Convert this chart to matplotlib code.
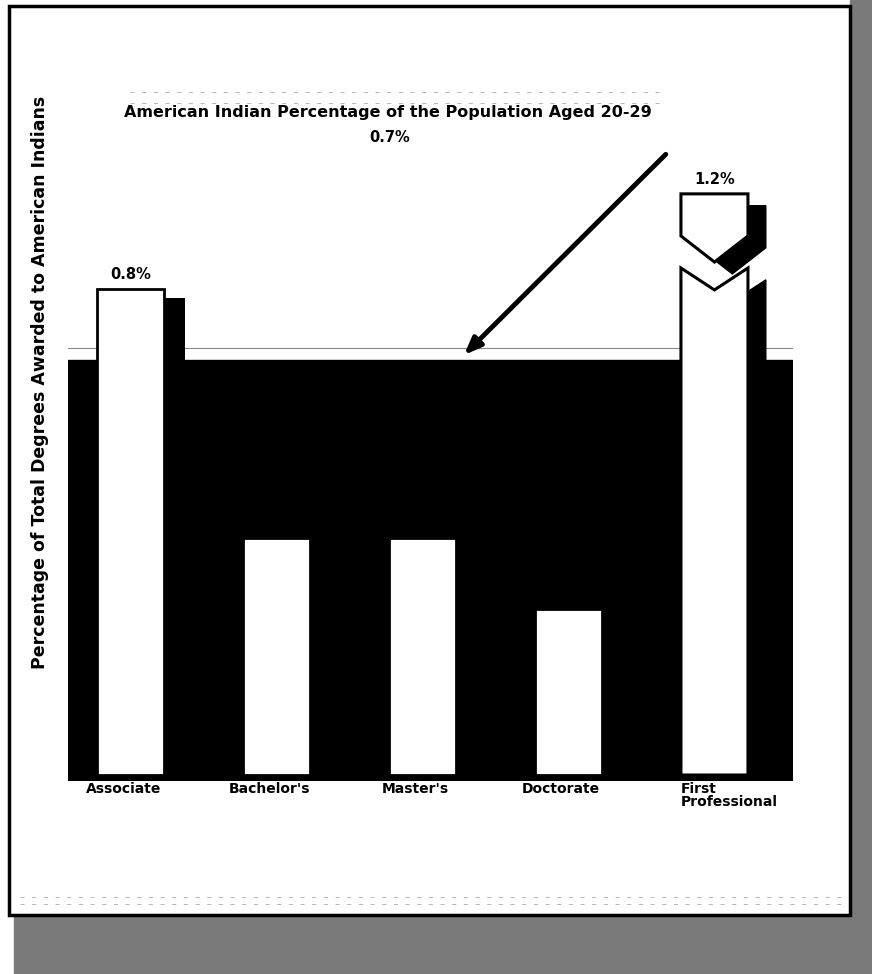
import numpy as np
import matplotlib.pyplot as plt
from matplotlib.patches import Rectangle

categories = ["Associate", "Bachelor's", "Master's", "Doctorate", "First\nProfessional"]
shares = [0.82, 0.40, 0.40, 0.28, 1.2]
value_labels = ["0.8%", "", "", "", "1.2%"]
population_share = 0.7
population_label = "0.7%"
title = "American Indian Percentage of the Population Aged 20-29"
ylabel = "Percentage of Total Degrees Awarded to American Indians"

W, H = 872, 974
plt.rcParams['font.family'] = ['DejaVu Sans']
fig = plt.figure(figsize=(W / 100, H / 100), dpi=100)

# page frame + dithered shadow (kept under the axes)
fig.patches.append(Rectangle((850 / W, 0), 22 / W, 1, color='#7a7a7a', transform=fig.transFigure,
                             zorder=-3))
fig.patches.append(Rectangle((14 / W, 0), 858 / W, 1 - 916 / H, color='#7a7a7a',
                             transform=fig.transFigure, zorder=-3))
fig.patches.append(Rectangle((9 / W, 1 - 915 / H), 841 / W, 909 / H, facecolor='white',
                             edgecolor='black', lw=2.5, transform=fig.transFigure, zorder=-2))
# faint scan lines
for py, x0, x1 in ((897, 20, 848), (904, 20, 848), (92, 130, 660), (103, 130, 660)):
    fig.add_artist(plt.Line2D([x0 / W, x1 / W], [1 - py / H] * 2, color='#aaaaaa', lw=0.6,
                              ls=(0, (5, 9)), transform=fig.transFigure, zorder=-1))

# axes in pixel layout: baseline at y=775, 593 px per percent
base_px, ppu = 775, 593
ylo, yhi = -0.01, 1.05
ax = fig.add_axes([68 / W, 1 - (base_px - ylo * ppu) / H, 725 / W, (yhi - ylo) * ppu / H])
ax.set_xlim(-0.428, 4.538)
ax.set_ylim(ylo, yhi)
ax.axis('off')
ax.patch.set_visible(False)

x = np.arange(len(categories))
vals = np.array(shares)
bw = 0.459
off = 0.144

ax.axhspan(ylo, population_share, color='black', zorder=1)
ax.axhline(population_share + 0.02, color='#888888', lw=0.8, zorder=1)

# normal bars
ax.bar(x[:4] + off, vals[:4] - 0.015, bw, color='black', zorder=2)
ax.bar(x[:4], vals[:4], bw, color='white', edgecolor='black', lw=2, zorder=3)

# broken bar for First Professional
cap = 0.98
xl, xr, xc = x[4] - bw / 2, x[4] + bw / 2, x[4]
low = ([xl, xr, xr, xc, xl], [0, 0, 0.855, 0.818, 0.855])
up = ([xl, xc, xr, xr, xl], [0.909, 0.865, 0.909, cap, cap])
for px, py in (low, up):
    ax.fill(np.array(px) + off * 0.85, np.array(py) - 0.02, color='black', zorder=2)
    ax.fill(px, py, facecolor='white', edgecolor='black', lw=2.2, zorder=3)

# value labels
tops = [vals[0], 0, 0, 0, cap]
for i, lab in enumerate(value_labels):
    if lab:
        ax.text(x[i], tops[i] + 0.012, lab, ha='center', va='bottom', fontsize=10.5,
                fontweight='bold', zorder=4)

# category labels
for i, cat in enumerate(categories):
    if i == 4:
        ax.text(xl, -0.012, cat, ha='left', va='top', fontsize=10, fontweight='bold',
                multialignment='left', linespacing=0.9)
    else:
        ax.text(x[i] - 0.05, -0.012, cat, ha='center', va='top', fontsize=10, fontweight='bold')

# population annotation
ax.annotate('', xy=(2.271, population_share + 0.005), xytext=(3.68, 1.05),
            arrowprops=dict(arrowstyle='-|>,head_length=1.0,head_width=0.4', color='black', lw=3.5),
            annotation_clip=False, zorder=5)
fig.text(388 / W, 1 - 113 / H, title, ha='center', va='center', fontsize=11.5, fontweight='bold')
fig.text(390 / W, 1 - 137 / H, population_label, ha='center', va='center', fontsize=10.5,
         fontweight='bold')
fig.text(40 / W, 1 - 382 / H, ylabel, rotation=90, ha='center', va='center', fontsize=12.5,
         fontweight='bold')

fig.savefig('out.png', dpi=100)
